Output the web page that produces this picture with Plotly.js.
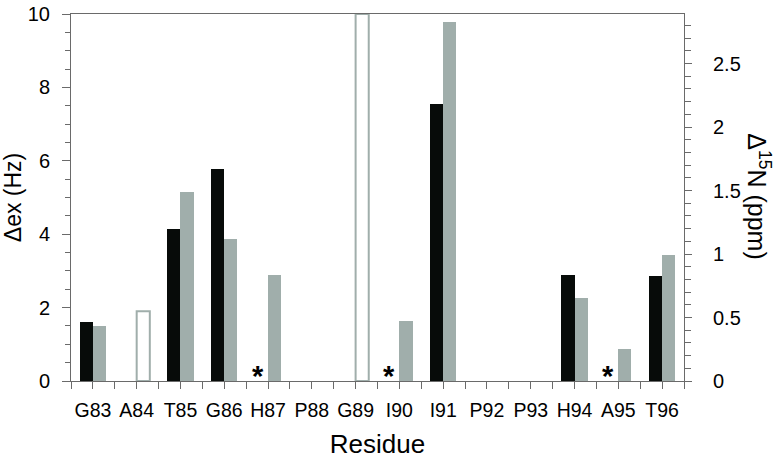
<!DOCTYPE html>
<html>
<head>
<meta charset="utf-8">
<script src="https://cdn.plot.ly/plotly-3.0.1.min.js"></script>
<style>html,body{margin:0;padding:0;background:#fff;}#chart{width:781px;height:465px;}</style>
</head>
<body>
<div id="chart"></div>
<script>
// Data
var residues = ["G83","A84","T85","G86","H87","P88","G89","I90","I91","P92","P93","H94","A95","T96"];
// Δex (Hz), left axis (black bars); null = no bar
var dexHz = [1.62, null, 4.15, 5.78, null, null, null, null, 7.55, null, null, 2.89, null, 2.86];
// Δ15N (ppm), right axis (grey bars)
var d15N = [0.435, null, 1.49, 1.116, 0.837, null, null, 0.472, 2.824, null, null, 0.651, 0.25, 0.99];
// hollow (outlined) bars, left axis Hz
var hollowHz = [null, 1.9, null, null, null, null, 10, null, null, null, null, null, null, null];
// residues marked with an asterisk
var starred = ["H87", "I90", "A95"];

var FONT = "Liberation Sans, Arial, sans-serif";
var BLACK = "#070b09";
var GREY = "#a0aeab";
var AXIS = "#6a6a6a";

var traces = [
  {type: "bar", x: residues, y: dexHz, xaxis: "x", yaxis: "y",
   marker: {color: BLACK}, width: 0.3, offset: -0.3, hoverinfo: "x+y", name: "Δex"},
  {type: "bar", x: residues, y: d15N, xaxis: "x", yaxis: "y2",
   marker: {color: GREY}, width: 0.3, offset: 0, hoverinfo: "x+y", name: "Δ15N"},
  {type: "bar", x: residues, y: hollowHz, xaxis: "x", yaxis: "y",
   marker: {color: "rgba(0,0,0,0)", line: {color: GREY, width: 2}}, width: 0.3, offset: 0, hoverinfo: "x", name: "hollow"}
];

var annotations = starred.map(function (r) {
  return {x: r, y: 0, xref: "x", yref: "y", text: "<b>*</b>", showarrow: false,
          xanchor: "center", yanchor: "bottom", xshift: -10, yshift: -13,
          font: {family: FONT, size: 29, color: "#000"}};
});
annotations.push({
  xref: "paper", yref: "paper", x: 1.122, y: 0.504, textangle: 90, showarrow: false,
  xanchor: "center", yanchor: "middle",
  text: "Δ<sup>15</sup>N (ppm)", font: {family: FONT, size: 25, color: "#000"}
});

var layout = {
  width: 781, height: 465,
  margin: {l: 71, r: 97, t: 14, b: 84, pad: 0},
  paper_bgcolor: "#fff", plot_bgcolor: "#fff",
  showlegend: false,
  bargap: 0, barmode: "overlay",
  font: {family: FONT, color: "#000"},
  xaxis: {
    type: "category", categoryarray: residues, categoryorder: "array",
    range: [-0.5, 13.5], tickson: "boundaries", tickangle: 0,
    ticks: "outside", ticklen: 7, tickcolor: AXIS, tickwidth: 1,
    showline: true, linecolor: AXIS, linewidth: 1, mirror: true,
    showgrid: false, zeroline: false,
    tickfont: {family: FONT, size: 19.5, color: "#000"},
    ticklabelstandoff: 12,
    title: {text: "Residue", font: {family: FONT, size: 26, color: "#000"}, standoff: 14}
  },
  xaxis2: {
    overlaying: "x", anchor: "y", side: "bottom", type: "linear",
    range: [-0.5, 13.5], tick0: 0, dtick: 1,
    ticks: "outside", ticklen: 7, tickcolor: AXIS, tickwidth: 1,
    showticklabels: false, showgrid: false, zeroline: false, showline: false
  },
  yaxis: {
    range: [0, 10], dtick: 2, tick0: 0,
    ticks: "outside", ticklen: 8, tickcolor: AXIS, tickwidth: 1,
    minor: {dtick: 0.5, ticks: "outside", ticklen: 5, tickcolor: AXIS, showgrid: false},
    showline: true, linecolor: AXIS, linewidth: 1,
    showgrid: false, zeroline: false,
    tickfont: {family: FONT, size: 20, color: "#000"},
    ticklabelstandoff: 8,
    title: {text: "Δex (Hz)", font: {family: FONT, size: 23, color: "#000"}, standoff: 10}
  },
  yaxis2: {
    overlaying: "y", side: "right", anchor: "x",
    range: [0, 2.89], dtick: 0.5, tick0: 0,
    ticks: "outside", ticklen: 7, tickcolor: AXIS, tickwidth: 1,
    minor: {dtick: 0.1, ticks: "outside", ticklen: 6, tickcolor: AXIS, showgrid: false},
    showline: true, linecolor: AXIS, linewidth: 1,
    showgrid: false, zeroline: false,
    tickfont: {family: FONT, size: 20, color: "#000"},
    ticklabelstandoff: 17
  },
  annotations: annotations
};

// an invisible trace on xaxis2 so that its centre ticks are drawn
traces.push({type: "scatter", x: [0], y: [0], xaxis: "x2", yaxis: "y", mode: "markers",
             marker: {opacity: 0}, hoverinfo: "skip"});

Plotly.newPlot("chart", traces, layout, {displayModeBar: false, staticPlot: true});
</script>
</body>
</html>
